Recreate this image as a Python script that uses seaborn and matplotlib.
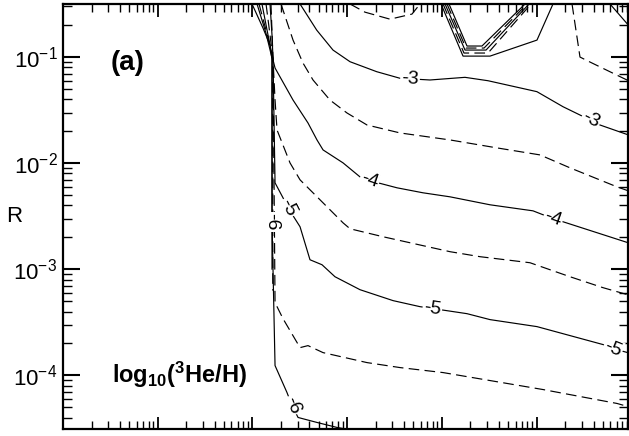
import numpy as np
import matplotlib
matplotlib.use('Agg')
import matplotlib.pyplot as plt
import matplotlib.ticker as mticker
import seaborn as sns

# contour paths, as log10(x) and log10(R)
c3_lx = [2.503, 2.679, 2.851, 3.031, 3.313, 3.559, 3.875, 4.245, 4.488, 5.004, 5.280, 5.459, 5.670, 6.0]
c3_ly = [-0.5, -0.746, -0.934, -1.044, -1.138, -1.200, -1.216, -1.191, -1.223, -1.326, -1.468, -1.546, -1.640, -1.743]

c25a_lx = [3.031, 3.189, 3.453, 3.685, 3.770]
c25a_ly = [-0.5, -0.577, -0.643, -0.595, -0.5]
c25b_lx = [5.375, 5.459, 5.565, 5.913, 6.0]
c25b_ly = [-0.5, -1.0, -1.047, -1.198, -1.235]
c2_lx = [5.776, 6.0]
c2_ly = [-0.5, -0.73]

c35_lx = [2.302, 2.429, 2.534, 2.640, 2.819, 2.999, 3.210, 3.559, 4.087, 4.583, 5.037, 5.354, 5.850, 6.0]
c35_ly = [-0.5, -0.840, -1.056, -1.216, -1.405, -1.527, -1.640, -1.715, -1.781, -1.856, -1.922, -2.044, -2.223, -2.270]

c4_lx = [2.101, 2.165, 2.218, 2.239, 2.429, 2.587, 2.682, 2.746, 2.957, 3.136, 3.326, 3.527, 3.801, 4.087,
         4.509, 4.963, 5.069, 5.280, 6.0]
c4_ly = [-0.5, -0.793, -1.028, -1.103, -1.405, -1.621, -1.781, -1.875, -1.997, -2.129, -2.185, -2.232, -2.279,
         -2.317, -2.392, -2.449, -2.486, -2.552, -2.759]

c45_lx = [2.144, 2.186, 2.218, 2.239, 2.260, 2.397, 2.503, 2.714, 2.957, 3.031, 3.379, 4.087, 4.403, 4.931,
          5.354, 5.702, 6.0]
c45_ly = [-0.5, -0.793, -1.028, -1.404, -1.687, -1.997, -2.157, -2.345, -2.562, -2.618, -2.693, -2.834, -2.881,
          -2.938, -3.070, -3.173, -3.249]

c5_lx = [2.186, 2.207, 2.218, 2.239, 2.323, 2.376, 2.503, 2.608, 2.735, 2.872, 3.136, 3.485, 3.770, 3.981,
         4.266, 4.509, 5.005, 5.702, 5.808, 6.0]
c5_ly = [-0.5, -0.793, -1.028, -2.185, -2.326, -2.420, -2.599, -2.910, -2.957, -3.070, -3.192, -3.295, -3.352,
         -3.380, -3.418, -3.474, -3.540, -3.709, -3.747, -3.794]

c55_lx = [2.196, 2.218, 2.239, 2.323, 2.503, 2.587, 2.746, 3.210, 3.559, 4.013, 5.069, 5.850, 6.0]
c55_ly = [-0.5, -1.028, -3.314, -3.465, -3.738, -3.719, -3.785, -3.879, -3.926, -3.973, -4.133, -4.264, -4.302]

c6_lx = [1.996, 2.112, 2.186, 2.207, 2.207, 2.239, 2.365, 2.418, 2.482, 2.682, 2.893, 3.136]
c6_ly = [-0.5, -0.727, -0.887, -1.028, -2.552, -3.907, -4.161, -4.283, -4.396, -4.443, -4.490, -4.528]

# extra strands merging into the wall
w1_lx = [2.049, 2.143, 2.207, 2.207]
w1_ly = [-0.5, -0.774, -1.009, -3.0]
w2_lx = [2.07, 2.16, 2.215, 2.215]
w2_ly = [-0.5, -0.80, -1.01, -3.2]

# the notch at the top
v1_lx = [3.992, 4.224, 4.509, 5.005, 5.174]
v1_ly = [-0.5, -0.991, -0.991, -0.840, -0.5]
v2_lx = [4.013, 4.234, 4.488, 4.942]
v2_ly = [-0.5, -0.962, -0.962, -0.5]
v3_lx = [4.034, 4.245, 4.467, 4.921]
v3_ly = [-0.5, -0.934, -0.934, -0.5]
v4_lx = [4.055, 4.255, 4.446, 4.900]
v4_ly = [-0.5, -0.915, -0.915, -0.5]
v5_lx = [4.076, 4.266, 4.424, 4.879]
v5_ly = [-0.5, -0.896, -0.896, -0.5]

ytick_vals = [1e-4, 1e-3, 1e-2, 1e-1]
ytick_labels = [r'$10^{-4}$', r'$10^{-3}$', r'$10^{-2}$', r'$10^{-1}$']

sns.set_style('ticks')
plt.rcParams['font.family'] = ['Liberation Sans', 'DejaVu Sans']
plt.rcParams['mathtext.fontset'] = 'custom'
plt.rcParams['mathtext.rm'] = 'Liberation Sans'
plt.rcParams['mathtext.it'] = 'Liberation Sans:italic'
plt.rcParams['mathtext.bf'] = 'Liberation Sans:bold'
plt.rcParams['text.color'] = 'black'
plt.rcParams['axes.labelcolor'] = 'black'
plt.rcParams['xtick.color'] = 'black'
plt.rcParams['ytick.color'] = 'black'
plt.rcParams['axes.edgecolor'] = 'black'

solid = '-'
dashed = (0, (9, 4.5))

lines = [
    (c3_lx, c3_ly, solid, '-3', [(3.664, -1.207), (5.565, -1.609)]),
    (c25a_lx, c25a_ly, dashed, None, []),
    (c25b_lx, c25b_ly, dashed, None, []),
    (c2_lx, c2_ly, solid, None, []),
    (c35_lx, c35_ly, dashed, None, []),
    (c4_lx, c4_ly, solid, '-4', [(3.23, -2.18), (5.174, -2.524)]),
    (c45_lx, c45_ly, dashed, None, []),
    (c5_lx, c5_ly, solid, '-5', [(2.376, -2.42), (3.90, -3.37), (5.808, -3.747)]),
    (c55_lx, c55_ly, dashed, None, []),
    (c6_lx, c6_ly, solid, '-6', [(2.207, -2.552), (2.418, -4.283)]),
    (w1_lx, w1_ly, solid, None, []),
    (w2_lx, w2_ly, dashed, None, []),
    (v1_lx, v1_ly, solid, None, []),
    (v2_lx, v2_ly, dashed, None, []),
    (v3_lx, v3_ly, solid, None, []),
    (v4_lx, v4_ly, dashed, None, []),
    (v5_lx, v5_ly, solid, None, []),
]

fig = plt.figure(figsize=(6.29, 4.36), dpi=100)
ax = fig.add_axes([63 / 629, 7.5 / 436, 565 / 629, 424.5 / 436])
ax.set_xscale('log')
ax.set_yscale('log')

for lx, ly, ls, txt, labs in lines:
    sns.lineplot(x=10 ** np.array(lx), y=10 ** np.array(ly), sort=False, estimator=None,
                 color='black', lw=0.85, linestyle=ls, ax=ax)

ax.set_xlim(1, 10 ** 5.966)
ax.set_ylim(10 ** -4.5, 10 ** -0.5)


def put_label(xs, ys, target, text):
    pts = ax.transData.transform(np.column_stack([xs, ys]))
    tp = ax.transData.transform(target)
    best = None
    for i in range(len(pts) - 1):
        a, b = pts[i], pts[i + 1]
        d = b - a
        L2 = d @ d
        if L2 == 0:
            continue
        t = np.clip((tp - a) @ d / L2, 0, 1)
        p = a + t * d
        dist = np.hypot(*(tp - p))
        if best is None or dist < best[0]:
            best = (dist, p, d)
    _, p, d = best
    ang = np.degrees(np.arctan2(d[1], d[0]))
    if ang > 90:
        ang -= 180
    if ang < -90:
        ang += 180
    pos = ax.transData.inverted().transform(p)
    ax.text(pos[0], pos[1], text, fontsize=14, color='black', rotation=ang, rotation_mode='anchor',
            ha='center', va='center', zorder=5,
            bbox=dict(facecolor='white', edgecolor='none', pad=0.8))


for lx, ly, ls, txt, labs in lines:
    for lab in labs:
        put_label(10 ** np.array(lx), 10 ** np.array(ly), (10 ** lab[0], 10 ** lab[1]), txt)

ax.set_yticks(ytick_vals)
ax.set_yticklabels(ytick_labels, fontsize=16)
ax.yaxis.set_minor_locator(mticker.LogLocator(base=10, subs=np.arange(2, 10), numticks=20))
ax.xaxis.set_major_locator(mticker.LogLocator(base=10, numticks=20))
ax.xaxis.set_minor_locator(mticker.LogLocator(base=10, subs=np.arange(2, 10), numticks=20))
ax.xaxis.set_major_formatter(mticker.NullFormatter())
ax.xaxis.set_minor_formatter(mticker.NullFormatter())
ax.yaxis.set_minor_formatter(mticker.NullFormatter())

ax.tick_params(axis='both', which='both', direction='in', top=True, right=True, colors='black')
ax.tick_params(axis='x', which='major', length=9, width=1.3)
ax.tick_params(axis='x', which='minor', length=5.5, width=1.0)
ax.tick_params(axis='y', which='major', length=12, width=1.5, pad=4)
ax.tick_params(axis='y', which='minor', length=6.5, width=1.0)
for s in ax.spines.values():
    s.set_linewidth(1.6)
    s.set_color('black')

ax.set_xlabel('')
ax.set_ylabel('R', rotation=0, fontsize=16, va='center', ha='center', color='black')
ax.yaxis.set_label_coords(-0.087, 0.5)

ax.text(0.115, 0.861, '(a)', transform=ax.transAxes, fontsize=20, fontweight='bold',
        ha='center', va='center', color='black')
ax.text(0.087, 0.126, r'$\mathbf{log_{10}(^{3}He/H)}$', transform=ax.transAxes, fontsize=17,
        ha='left', va='center', color='black')

fig.savefig('out.png', dpi=100, facecolor='white')
